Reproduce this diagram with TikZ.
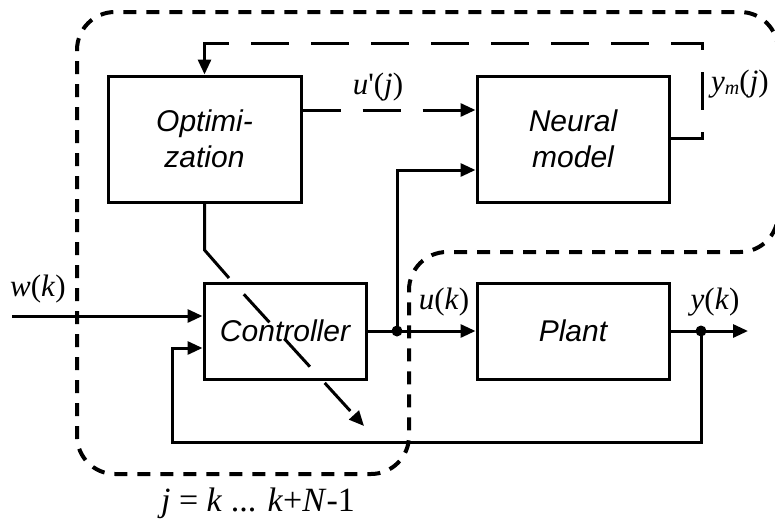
\documentclass[tikz,border=0pt]{standalone}
\usepackage{fontspec}
\setmainfont{Liberation Serif}
\newfontfamily\sansf{Liberation Sans}
\usetikzlibrary{arrows.meta}
\begin{document}
\begin{tikzpicture}[x=1pt,y=-1pt,
 blk/.style={draw, line width=3pt, inner sep=0pt, font=\sansf\itshape\fontsize{30}{36}\selectfont, align=center},
 wire/.style={line width=3pt},
 arr/.style={-{Triangle[length=15pt,width=13pt]}},
 ldash/.style={dash pattern=on 38pt off 22pt},
 sdash/.style={dash pattern=on 13pt off 10pt},
 lab/.style={font=\fontsize{31}{36}\selectfont, inner sep=0pt}]
\clip (0,0) rectangle (775,522);
% blocks
\node[blk, minimum width=193pt, minimum height=126pt] (opt) at (204.5,139) {Optimi-\\zation};
\node[blk, minimum width=192pt, minimum height=126pt] (nm) at (573,139) {Neural\\model};
\node[blk, minimum width=162pt, minimum height=96pt] (ctrl) at (285,331) {Controller};
\node[blk, minimum width=192pt, minimum height=96pt] (plant) at (573,331) {Plant};
% boundary
\draw[line width=4pt, sdash, rounded corners=38pt] (77,250) -- (77,12) -- (778,12) -- (778,252) -- (409,252) -- (409,474) -- (77,474) -- cycle;
% coordinates
\coordinate (uj) at (0,110);
\coordinate (br) at (397,331);
\coordinate (n2) at (0,170);
\coordinate (yd) at (701,331);
\coordinate (yout) at (748,331);
\coordinate (fb1) at (701,442);
\coordinate (fb2) at (172,442);
\coordinate (fbin) at (0,348);
\coordinate (win) at (12,316);
\coordinate (nr) at (702,138);
\coordinate (nt) at (702,43);
\coordinate (ot) at (204.5,43);
\coordinate (otd) at (226,43);
\coordinate (ob) at (204.5,250);
\coordinate (od) at (229,278);
\coordinate (oe) at (364,426);
% u'(j)
\draw[wire, ldash, arr] (opt.east |- uj) -- (nm.west |- uj);
% neural model feedback to optimization
\draw[wire, ldash] (nm.east |- nr) -- (nr) -- (nt) -- (ot);
\draw[wire, arr] (otd) -- (ot) -- (opt.north);
% controller to plant
\draw[wire, arr] (ctrl.east) -- (plant.west);
\draw[wire, arr] (br) |- (nm.west |- n2);
\fill (br) circle[radius=5.5pt];
% plant output
\draw[wire, arr] (plant.east) -- (yout);
\fill (yd) circle[radius=5.5pt];
\draw[wire, arr] (yd) -- (fb1) -- (fb2) |- (ctrl.west |- fbin);
% reference input
\draw[wire, arr] (win) -- (ctrl.west |- win);
% optimization adjusts controller
\draw[wire] (opt.south) -- (ob) -- (od);
\draw[wire, ldash, dash phase=38pt, arr] (od) -- (oe);
% labels
\node[lab] (lu1) at (378,87) {\textit{u}\textquotesingle(\textit{j})};
\node[lab, anchor=west] (lym) at (711,84) {\textit{y}\raisebox{-3pt}{\fontsize{20}{20}\selectfont\textit{m}}(\textit{j})};
\node[lab] (lw) at (38,289) {\textit{w}(\textit{k})};
\node[lab] (lu) at (444,302) {\textit{u}(\textit{k})};
\node[lab] (ly) at (715,302) {\textit{y}(\textit{k})};
\node[lab, font=\fontsize{34}{38}\selectfont] (lj) at (258,503) {\textit{j} = \textit{k} ... \textit{k}+\textit{N}-1};
\end{tikzpicture}
\end{document}
